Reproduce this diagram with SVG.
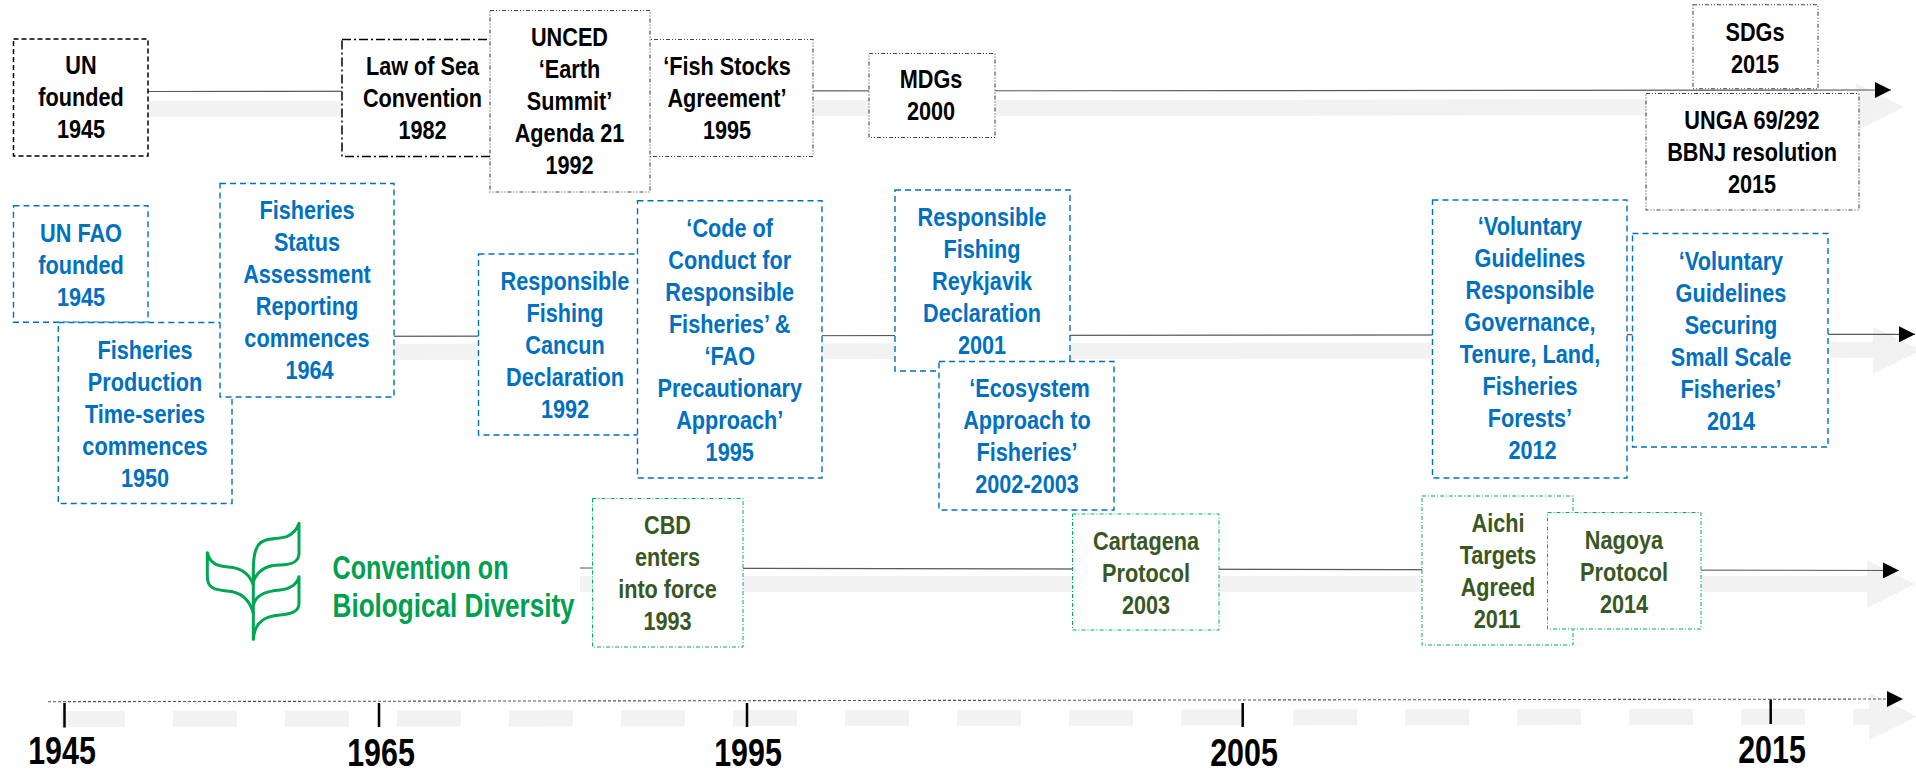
<svg xmlns="http://www.w3.org/2000/svg" width="1916" height="772" viewBox="0 0 1916 772">
<style>
text{font-family:"Liberation Sans",Arial,sans-serif;font-weight:700;font-size:25.5px;text-anchor:middle}
.k text,text.k{fill:#000}
.b text{fill:#0070C0}
.g text{fill:#385723}
rect{fill:#fff}
.k1{stroke:#000;stroke-width:1.5;stroke-dasharray:5 3}
.k2{stroke:#000;stroke-width:1.5;stroke-dasharray:9 3 2 3}
.k3{stroke:#444;stroke-width:1.1;stroke-dasharray:4 2 1 2 1 2}
.b rect{stroke:#0070C0;stroke-width:1.4;stroke-dasharray:6 4}
.g rect{stroke:#00B050;stroke-width:1;stroke-dasharray:4 2 1 2}
.band{fill:#F2F2F2}
.ln{stroke:#595959;stroke-width:1.2;fill:none}
.tick{stroke:#000;stroke-width:2.5}
.yr{font-size:38px;fill:#000}
</style>
<defs>
<marker id="ah" markerUnits="userSpaceOnUse" markerWidth="16" markerHeight="16" refX="16" refY="8" orient="auto"><path d="M0 0L16 8L0 16Z" fill="#000"/></marker>
</defs>
<g id="connectors">
<polygon class="band" points="100,101 1856,99 1856,83 1904,107 1856,131 1856,115 100,117"/>
<polygon class="band" points="300,344 1873,342 1873,327 1921,350 1873,374 1873,358 300,360"/>
<polygon class="band" points="580,576 1867,576 1867,560 1915,584 1867,608 1867,592 580,592"/>
<path d="M61 719L1869 716.7" stroke="#F2F2F2" stroke-width="16" stroke-dasharray="64 48" fill="none"/>
<polygon class="band" points="1869,692.7 1917,716.5 1869,740"/>
<line class="ln" x1="148" y1="91.5" x2="1891" y2="90" marker-end="url(#ah)"/>
<line class="ln" x1="300" y1="336.3" x2="1915" y2="334.3" marker-end="url(#ah)"/>
<line class="ln" x1="580" y1="568" x2="1899" y2="570.5" marker-end="url(#ah)"/>
<line x1="48" y1="701.7" x2="1903" y2="699" stroke="#555" stroke-width="1.1" stroke-dasharray="3 2" marker-end="url(#ah)"/>
</g>
<g id="node-un" class="k"><rect class="k1" x="13.5" y="39" width="134.5" height="117"/><text transform="translate(81 0) scale(.85 1)"><tspan x="0" y="74">UN</tspan><tspan x="0" y="106">founded</tspan><tspan x="0" y="138">1945</tspan></text></g>
<g id="node-los" class="k"><rect class="k2" x="342" y="39.5" width="160" height="117"/><text transform="translate(422.5 0) scale(.85 1)"><tspan x="0" y="75">Law of Sea</tspan><tspan x="0" y="107">Convention</tspan><tspan x="0" y="139">1982</tspan></text></g>
<g id="node-fish" class="k"><rect class="k3" x="630" y="39.5" width="183" height="117"/><text transform="translate(727 0) scale(.85 1)"><tspan x="0" y="75">‘Fish Stocks</tspan><tspan x="0" y="107">Agreement’</tspan><tspan x="0" y="139">1995</tspan></text></g>
<g id="node-unced" class="k"><rect class="k3" x="490" y="10.5" width="160" height="181.5"/><text transform="translate(569.5 0) scale(.85 1)"><tspan x="0" y="46">UNCED</tspan><tspan x="0" y="78">‘Earth</tspan><tspan x="0" y="110">Summit’</tspan><tspan x="0" y="142">Agenda 21</tspan><tspan x="0" y="174">1992</tspan></text></g>
<g id="node-mdgs" class="k"><rect class="k3" x="869" y="53.5" width="126" height="84"/><text transform="translate(931 0) scale(.85 1)"><tspan x="0" y="88">MDGs</tspan><tspan x="0" y="120">2000</tspan></text></g>
<g id="node-sdgs" class="k"><rect class="k3" x="1693" y="4.7" width="125" height="84"/><text transform="translate(1755 0) scale(.85 1)"><tspan x="0" y="40.7">SDGs</tspan><tspan x="0" y="72.7">2015</tspan></text></g>
<g id="node-unga" class="k"><rect class="k3" x="1646" y="93.5" width="213" height="116.5"/><text transform="translate(1752 0) scale(.85 1)"><tspan x="0" y="129">UNGA 69/292</tspan><tspan x="0" y="161">BBNJ resolution</tspan><tspan x="0" y="193">2015</tspan></text></g>
<g id="node-fao" class="b"><rect x="13.5" y="205.7" width="134.5" height="116.5"/><text transform="translate(81 0) scale(.85 1)"><tspan x="0" y="241.7">UN FAO</tspan><tspan x="0" y="274">founded</tspan><tspan x="0" y="306">1945</tspan></text></g>
<g id="node-production" class="b"><rect x="58.3" y="322.5" width="173.7" height="181"/><text transform="translate(145 0) scale(.85 1)"><tspan x="0" y="359">Fisheries</tspan><tspan x="0" y="391">Production</tspan><tspan x="0" y="423">Time-series</tspan><tspan x="0" y="455">commences</tspan><tspan x="0" y="487">1950</tspan></text></g>
<g id="node-status" class="b"><rect x="220" y="183.5" width="174" height="213.5"/><text transform="translate(307 0) scale(.85 1)"><tspan x="0" y="219">Fisheries</tspan><tspan x="0" y="251">Status</tspan><tspan x="0" y="283">Assessment</tspan><tspan x="0" y="315">Reporting</tspan><tspan x="0" y="347">commences</tspan><tspan x="3" y="379">1964</tspan></text></g>
<g id="node-cancun" class="b"><rect x="478.5" y="254" width="170" height="181"/><text transform="translate(565 0) scale(.85 1)"><tspan x="0" y="290">Responsible</tspan><tspan x="0" y="322">Fishing</tspan><tspan x="0" y="354">Cancun</tspan><tspan x="0" y="386">Declaration</tspan><tspan x="0" y="418">1992</tspan></text></g>
<g id="node-code" class="b"><rect x="637.5" y="200.7" width="184.5" height="277.3"/><text transform="translate(729.7 0) scale(.85 1)"><tspan x="0" y="236.7">‘Code of</tspan><tspan x="0" y="268.7">Conduct for</tspan><tspan x="0" y="300.7">Responsible</tspan><tspan x="0" y="332.7">Fisheries’ &amp;</tspan><tspan x="0" y="364.7">‘FAO</tspan><tspan x="0" y="396.7">Precautionary</tspan><tspan x="0" y="428.7">Approach’</tspan><tspan x="0" y="460.7">1995</tspan></text></g>
<g id="node-reykjavik" class="b"><rect x="895" y="190" width="175" height="181"/><text transform="translate(982 0) scale(.85 1)"><tspan x="0" y="225.7">Responsible</tspan><tspan x="0" y="257.7">Fishing</tspan><tspan x="0" y="289.7">Reykjavik</tspan><tspan x="0" y="321.7">Declaration</tspan><tspan x="0" y="353.7">2001</tspan></text></g>
<g id="node-ecosystem" class="b"><rect x="939" y="361.5" width="175" height="148.5"/><text transform="translate(1027 0) scale(.85 1)"><tspan x="3" y="396.7">‘Ecosystem</tspan><tspan x="0" y="428.7">Approach to</tspan><tspan x="0" y="460.7">Fisheries’</tspan><tspan x="0" y="492.7">2002-2003</tspan></text></g>
<g id="node-vg-tenure" class="b"><rect x="1432.5" y="200" width="194.5" height="278"/><text transform="translate(1530 0) scale(.85 1)"><tspan x="0" y="235">‘Voluntary</tspan><tspan x="0" y="267">Guidelines</tspan><tspan x="0" y="299">Responsible</tspan><tspan x="0" y="331">Governance,</tspan><tspan x="0" y="363">Tenure, Land,</tspan><tspan x="0" y="395">Fisheries</tspan><tspan x="0" y="427">Forests’</tspan><tspan x="3" y="459">2012</tspan></text></g>
<g id="node-vg-ssf" class="b"><rect x="1632.5" y="233.5" width="195.5" height="213.5"/><text transform="translate(1731 0) scale(.85 1)"><tspan x="0" y="270">‘Voluntary</tspan><tspan x="0" y="302">Guidelines</tspan><tspan x="0" y="334">Securing</tspan><tspan x="0" y="366">Small Scale</tspan><tspan x="0" y="398">Fisheries’</tspan><tspan x="0" y="430">2014</tspan></text></g>
<g id="logo-cbd">
<g transform="translate(190 510) scale(.3333)" fill="none" stroke="#00A651" stroke-width="9" stroke-linejoin="round">
<path d="M190 215C190 170 188 130 205 105C225 80 260 90 290 80C310 72 322 55 327 40L327 130C327 160 300 165 270 165C235 165 205 175 190 215"/>
<path d="M190 225C180 195 160 178 125 172C95 168 62 170 52 128L52 200C52 235 75 240 110 243C150 245 178 265 190 310"/>
<path d="M190 285C200 250 235 243 270 240C300 237 320 225 327 200L327 280C327 305 305 312 270 315C225 318 195 335 190 385"/>
<path d="M190 210L190 392"/>
</g>
<text x="332.6" y="579" textLength="176" lengthAdjust="spacingAndGlyphs" style="font-size:34px;text-anchor:start;fill:#00A04F">Convention on</text>
<text x="332.6" y="616.7" textLength="242" lengthAdjust="spacingAndGlyphs" style="font-size:34px;text-anchor:start;fill:#00A04F">Biological Diversity</text>
</g>
<g id="node-cbd" class="g"><rect x="592.5" y="498.5" width="150.5" height="148.5"/><text transform="translate(667.5 0) scale(.85 1)"><tspan x="0" y="534">CBD</tspan><tspan x="0" y="566">enters</tspan><tspan x="0" y="598">into force</tspan><tspan x="0" y="630">1993</tspan></text></g>
<g id="node-cartagena" class="g"><rect x="1072.5" y="514" width="146.5" height="116"/><text transform="translate(1146 0) scale(.85 1)"><tspan x="0" y="550">Cartagena</tspan><tspan x="0" y="582">Protocol</tspan><tspan x="0" y="614">2003</tspan></text></g>
<g id="node-aichi" class="g"><rect x="1422" y="496" width="151" height="149"/><text transform="translate(1498 0) scale(.85 1)"><tspan x="0" y="532">Aichi</tspan><tspan x="0" y="564">Targets</tspan><tspan x="0" y="596">Agreed</tspan><tspan x="-1" y="628">2011</tspan></text></g>
<g id="node-nagoya" class="g"><rect x="1547.5" y="512.5" width="153.5" height="116.5"/><text transform="translate(1624 0) scale(.85 1)"><tspan x="0" y="548.7">Nagoya</tspan><tspan x="0" y="580.7">Protocol</tspan><tspan x="0" y="612.7">2014</tspan></text></g>
<g id="axis">
<line class="tick" x1="64.5" y1="703" x2="64.5" y2="727.5"/><line class="tick" x1="379" y1="703" x2="379" y2="727"/><line class="tick" x1="747" y1="703" x2="747" y2="727"/><line class="tick" x1="1242.7" y1="703" x2="1242.7" y2="727"/><line class="tick" x1="1770.7" y1="699.5" x2="1770.7" y2="724"/>
<text class="yr" transform="translate(62 764) scale(.8 1)">1945</text>
<text class="yr" transform="translate(381 766) scale(.8 1)">1965</text>
<text class="yr" transform="translate(748 766) scale(.8 1)">1995</text>
<text class="yr" transform="translate(1244 766) scale(.8 1)">2005</text>
<text class="yr" transform="translate(1772 763) scale(.8 1)">2015</text>
</g>
</svg>
